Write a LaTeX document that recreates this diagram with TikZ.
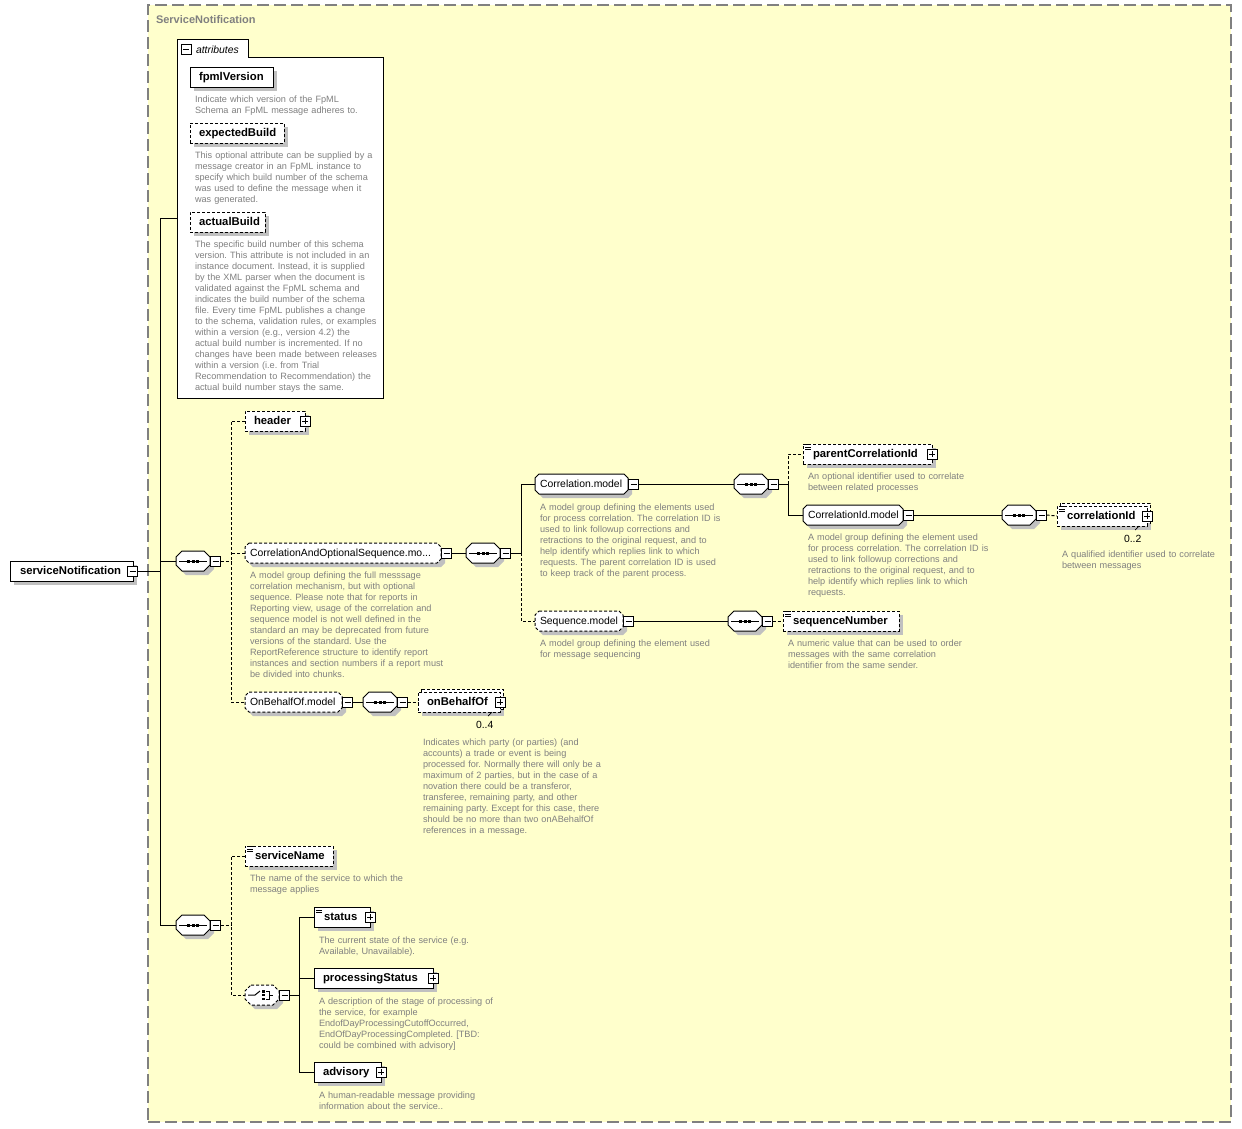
\documentclass[tikz,border=0pt]{standalone}
\usepackage{fontspec}
\setmainfont{Liberation Sans}
\pgfdeclarelayer{back}
\pgfdeclarelayer{bg}
\pgfsetlayers{back,bg,main}
\definecolor{ylw}{RGB}{255,255,204}
\definecolor{shd}{RGB}{192,192,192}
\definecolor{dsc}{RGB}{128,128,128}
\definecolor{frm}{RGB}{128,128,128}
\newcommand\namefont{\fontsize{11.3}{13}\selectfont\bfseries}
\newcommand\grpfont{\fontsize{10.4}{12}\selectfont}
\newcommand\descfont{\fontsize{9.15}{11}\selectfont\frenchspacing}
\newcommand\chamfer[3]{%
  \begin{scope}[transform canvas={shift={(4pt,-4pt)}}]
    \fill[shd] ([xshift=#2]#1.north west) -- ([xshift=-#2]#1.north east) -- ([yshift=-#2]#1.north east) -- ([yshift=#2]#1.south east) -- ([xshift=-#2]#1.south east) -- ([xshift=#2]#1.south west) -- ([yshift=#2]#1.south west) -- ([yshift=-#2]#1.north west) -- cycle;
  \end{scope}
  \filldraw[fill=white, draw=black, line width=1pt, #3] ([xshift=#2]#1.north west) -- ([xshift=-#2]#1.north east) -- ([yshift=-#2]#1.north east) -- ([yshift=#2]#1.south east) -- ([xshift=-#2]#1.south east) -- ([xshift=#2]#1.south west) -- ([yshift=#2]#1.south west) -- ([yshift=-#2]#1.north west) -- cycle;}
\newcommand\seqicon[1]{%
  \begin{scope}[shift={(#1.center)}]
    \draw[line width=1pt] (-14,0) -- (14,0);
    \fill (-6,-1.5) rectangle (-3,1.5);
    \fill (-1.5,-1.5) rectangle (1.5,1.5);
    \fill (3,-1.5) rectangle (6,1.5);
  \end{scope}}
\newcommand\choiceicon[1]{%
  \begin{scope}[shift={(#1.center)}]
    \draw[line width=1pt] (-14,0) -- (-7,0) -- (-2,-4);
    \fill (0,-5) rectangle (2.5,-2.5);
    \fill (0,-1.25) rectangle (2.5,1.25);
    \fill (0,2.5) rectangle (2.5,5);
    \draw[line width=1pt] (4,-4) -- (7,-4) -- (7,4) -- (4,4) (7,0) -- (11,0);
  \end{scope}}
\newcommand\simpleicon[1]{%
  \begin{scope}[shift={(#1.north west)}]
    \draw[line width=0.8pt] (2,0.5) -- (8,0.5) (2,3) -- (8,3) (2,5.5) -- (8,5.5);
  \end{scope}}
\begin{document}
\begin{tikzpicture}[x=1pt,y=-1pt, line width=1pt,
  every node/.style={inner sep=0pt, outer sep=0pt},
  shadowed/.style={preaction={fill=shd, transform canvas={shift={(4pt,-4pt)}}}},
  elembase/.style={draw=black, fill=white, anchor=north west, minimum height=20pt, text height=9pt, text depth=2pt, inner xsep=9pt, align=left, font=\namefont},
  elem/.style={elembase, shadowed},
  optl/.style={dash pattern=on 3pt off 2pt},
  grp/.style={anchor=north west, minimum height=20pt, text height=8.5pt, text depth=1.5pt, inner xsep=5pt, align=left, font=\grpfont},
  comp/.style={anchor=north west, minimum width=34pt, minimum height=20pt},
  desc/.style={anchor=base west, text width=250pt, align=left, font=\descfont, text=dsc},
  pmbox/.style={draw=black, fill=white, minimum size=10pt, anchor=center},
  plusbox/.style={pmbox, path picture={\draw[line width=1pt] ([xshift=2pt]path picture bounding box.west) -- ([xshift=-2pt]path picture bounding box.east) ([yshift=-2pt]path picture bounding box.north) -- ([yshift=2pt]path picture bounding box.south);}},
  minusbox/.style={pmbox, path picture={\draw[line width=1pt] ([xshift=2pt]path picture bounding box.west) -- ([xshift=-2pt]path picture bounding box.east);}},
  conn/.style={draw=black, line width=1pt},
  optconn/.style={conn, dash pattern=on 3pt off 2pt},
  occ/.style={anchor=base west, font=\grpfont},
]
\useasboundingbox (0,0) rectangle (1242,1128);
\begin{pgfonlayer}{back}
  \fill[white] (0,0) rectangle (1242,1128);
  \node[draw=frm, fill=ylw, line width=1.5pt, dash pattern=on 12pt off 5pt, anchor=north west, minimum width=1083pt, minimum height=1117pt] (frame) at (148,5) {};
\end{pgfonlayer}
\node[anchor=base west, font=\fontsize{11}{13}\selectfont\bfseries, text=frm] (title) at (156,23) {ServiceNotification};

% attributes
\node[anchor=north west, minimum width=206pt, minimum height=341pt] (attrs) at (177,57) {};
\node[minusbox] (attrm) at (186,49) {};
\node[anchor=base west, font=\grpfont\itshape] (attrlbl) at (196,53) {attributes};
\node[elem, text width=65pt] (fpml) at (190,67) {fpmlVersion};
\node[desc] (fpmld) at (195,102) {Indicate which version of the FpML\\Schema an FpML message adheres to.};
\node[elem, optl, text width=76pt] (expb) at (190,123) {expectedBuild};
\node[desc] (expbd) at (195,158) {This optional attribute can be supplied by a\\message creator in an FpML instance to\\specify which build number of the schema\\was used to define the message when it\\was generated.};
\node[elem, optl, text width=57pt] (actb) at (190,212) {actualBuild};
\node[desc] (actbd) at (195,247) {The specific build number of this schema\\version. This attribute is not included in an\\instance document. Instead, it is supplied\\by the XML parser when the document is\\validated against the FpML schema and\\indicates the build number of the schema\\file. Every time FpML publishes a change\\to the schema, validation rules, or examples\\within a version (e.g., version 4.2) the\\actual build number is incremented. If no\\changes have been made between releases\\within a version (i.e. from Trial\\Recommendation to Recommendation) the\\actual build number stays the same.};

% root
\node[elem, inner xsep=10pt, text width=103pt] (root) at (10,561) {serviceNotification};
\node[minusbox] (rootm) at (132.5,571) {};

% first sequence
\node[comp] (c1) at (176,551) {};
\node[minusbox] (c1m) at (215.5,561) {};
\node[elem, optl, text width=42pt] (header) at (245,411) {header};
\node[plusbox] (headerp) at (305,421) {};

\node[grp, text width=186pt] (cao) at (245,543) {CorrelationAndOptionalSequence.mo...};
\node[minusbox] (caom) at (446.5,553) {};
\node[desc] (caod) at (250,578) {A model group defining the full messsage\\correlation mechanism, but with optional\\sequence. Please note that for reports in\\Reporting view, usage of the correlation and\\sequence model is not well defined in the\\standard an may be deprecated from future\\versions of the standard. Use the\\ReportReference structure to identify report\\instances and section numbers if a report must\\be divided into chunks.};

\node[comp] (c2) at (466,543) {};
\node[minusbox] (c2m) at (505.5,553) {};

\node[grp, text width=83pt] (corr) at (535,474) {Correlation.model};
\node[minusbox] (corrm) at (633.5,484) {};
\node[desc] (corrd) at (540,510) {A model group defining the elements used\\for process correlation. The correlation ID is\\used to link followup corrections and\\retractions to the original request, and to\\help identify which replies link to which\\requests. The parent correlation ID is used\\to keep track of the parent process.};

\node[comp] (c3) at (734,474) {};
\node[minusbox] (c3m) at (773.5,484) {};

\node[elem, optl, inner xsep=10pt, text width=109pt] (pcid) at (803,444) {parentCorrelationId};
\node[plusbox] (pcidp) at (932,454) {};
\node[desc] (pcidd) at (808,479) {An optional identifier used to correlate\\between related processes};

\node[grp, text width=90pt] (cidm) at (803,505) {CorrelationId.model};
\node[minusbox] (cidmm) at (908.5,515) {};
\node[desc] (cidmd) at (808,540) {A model group defining the element used\\for process correlation. The correlation ID is\\used to link followup corrections and\\retractions to the original request, and to\\help identify which replies link to which\\requests.};

\node[comp] (c4) at (1002,505) {};
\node[minusbox] (c4m) at (1041.5,515) {};

\node[elembase, optl, inner xsep=10pt, text width=70pt] (cid) at (1057,506) {correlationId};
\node[plusbox] (cidp) at (1147,516) {};
\node[occ] (cidocc) at (1124,542) {0..2};
\node[desc, text width=160pt] (cidd) at (1062,557) {A qualified identifier used to correlate\\between messages};

\node[grp, text width=78pt] (seqm) at (535,611) {Sequence.model};
\node[minusbox] (seqmm) at (628.5,621) {};
\node[desc] (seqmd) at (540,646) {A model group defining the element used\\for message sequencing};

\node[comp] (c5) at (728,611) {};
\node[minusbox] (c5m) at (767.5,621) {};

\node[elem, optl, inner xsep=10pt, text width=96pt] (seqnum) at (783,611) {sequenceNumber};
\node[desc] (seqnumd) at (788,646) {A numeric value that can be used to order\\messages with the same correlation\\identifier from the same sender.};

\node[grp, text width=87pt] (obm) at (245,692) {OnBehalfOf.model};
\node[minusbox] (obmm) at (347.5,702) {};
\node[comp] (c6) at (363,692) {};
\node[minusbox] (c6m) at (402.5,702) {};
\node[elembase, optl, text width=64pt] (obo) at (418,692) {onBehalfOf};
\node[plusbox] (obop) at (500,702) {};
\node[occ] (oboocc) at (476,728) {0..4};
\node[desc] (obod) at (423,745) {Indicates which party (or parties) (and\\accounts) a trade or event is being\\processed for. Normally there will only be a\\maximum of 2 parties, but in the case of a\\novation there could be a transferor,\\transferee, remaining party, and other\\remaining party. Except for this case, there\\should be no more than two onABehalfOf\\references in a message.};

% second sequence
\node[comp] (c7) at (176,915) {};
\node[minusbox] (c7m) at (215.5,925) {};
\node[elem, optl, inner xsep=10pt, text width=68pt] (sname) at (245,846) {serviceName};
\node[desc] (snamed) at (250,881) {The name of the service to which the\\message applies};
\node[comp] (choice) at (245,985) {};
\node[minusbox] (choicem) at (284.5,995) {};
\node[elem, inner xsep=10pt, text width=36pt] (status) at (314,907) {status};
\node[plusbox] (statusp) at (370,917) {};
\node[desc] (statusd) at (319,943) {The current state of the service (e.g.\\Available, Unavailable).};
\node[elem, text width=101pt] (pstatus) at (314,968) {processingStatus};
\node[plusbox] (pstatusp) at (433,978) {};
\node[desc] (pstatusd) at (319,1004) {A description of the stage of processing of\\the service, for example\\EndofDayProcessingCutoffOccurred,\\EndOfDayProcessingCompleted. [TBD:\\could be combined with advisory]};
\node[elem, text width=49pt] (advisory) at (314,1062) {advisory};
\node[plusbox] (advisoryp) at (381,1072) {};
\node[desc] (advisoryd) at (319,1098) {A human-readable message providing\\information about the service..};

% shapes behind
\begin{pgfonlayer}{bg}
  \filldraw[fill=white, draw=black] (attrs.south west) -- (177,39) -- (248,39) -- (248,57) -- (attrs.north east) -- (attrs.south east) -- cycle;
  \chamfer{cao}{4pt}{optl}
  \chamfer{corr}{4pt}{}
  \chamfer{cidm}{4pt}{}
  \chamfer{seqm}{4pt}{optl}
  \chamfer{obm}{4pt}{optl}
  \chamfer{c1}{6pt}{}
  \chamfer{c2}{6pt}{}
  \chamfer{c3}{6pt}{}
  \chamfer{c4}{6pt}{}
  \chamfer{c5}{6pt}{}
  \chamfer{c6}{6pt}{}
  \chamfer{c7}{6pt}{}
  \chamfer{choice}{6pt}{optl}
  \fill[shd] ([xshift=4pt,yshift=-4pt]cid.north west) rectangle ([xshift=4pt,yshift=-4pt]cid.south east);
  \draw[fill=white, optl] ([xshift=3pt,yshift=3pt]cid.north west) rectangle ([xshift=3pt,yshift=3pt]cid.south east);
  \fill[shd] ([xshift=4pt,yshift=-4pt]obo.north west) rectangle ([xshift=4pt,yshift=-4pt]obo.south east);
  \draw[fill=white, optl] ([xshift=3pt,yshift=3pt]obo.north west) rectangle ([xshift=3pt,yshift=3pt]obo.south east);
\end{pgfonlayer}

% icons
\seqicon{c1}\seqicon{c2}\seqicon{c3}\seqicon{c4}\seqicon{c5}\seqicon{c6}\seqicon{c7}
\choiceicon{choice}
\simpleicon{pcid}\simpleicon{cid}\simpleicon{seqnum}\simpleicon{sname}\simpleicon{status}
\draw[line width=0.7pt] ([xshift=-12pt,yshift=-4pt]cid.south east) -- ([xshift=-8pt]cid.south east);
\draw[line width=0.7pt] ([xshift=-12pt,yshift=-4pt]obo.south east) -- ([xshift=-8pt]obo.south east);

% connectors
\coordinate (tr1) at (160,218);
\coordinate (tr2) at (160,925);
\draw[conn] (attrs.west |- tr1) -- (tr1) -- (tr2) -- (c7.west);
\draw[conn] (c1.west) -- (c1.west -| tr1);
\draw[conn] (rootm.east) -- (rootm.east -| tr1);

\coordinate (v1) at (231,421);
\draw[optconn] (c1m.east) -- (c1m.east -| v1);
\draw[optconn] (header.west) -- (header.west -| v1) -- (obm.west -| v1) -- (obm.west);
\draw[optconn] (cao.west) -- (cao.west -| v1);

\draw[conn] (caom.east) -- (c2.west);
\coordinate (v2) at (521,484);
\draw[conn] (c2m.east) -- (c2m.east -| v2);
\draw[conn] (corr.west) -- (corr.west -| v2) -- (c2m.east -| v2);
\draw[optconn] (c2m.east -| v2) -- (seqm.west -| v2) -- (seqm.west);
\draw[conn] (corrm.east) -- (c3.west);

\coordinate (v3) at (788,484);
\draw[conn] (c3m.east) -- (c3m.east -| v3) -- (cidm.west -| v3) -- (cidm.west);
\draw[optconn] (c3m.east -| v3) -- (pcid.west -| v3) -- (pcid.west);
\draw[conn] (cidmm.east) -- (c4.west);
\draw[optconn] (c4m.east) -- (cid.west);

\draw[conn] (seqmm.east) -- (c5.west);
\draw[optconn] (c5m.east) -- (seqnum.west);
\draw[conn] (obmm.east) -- (c6.west);
\draw[optconn] (c6m.east) -- (obo.west);

\coordinate (v4) at (231,925);
\draw[optconn] (c7m.east) -- (c7m.east -| v4);
\draw[optconn] (sname.west) -- (sname.west -| v4) -- (choice.west -| v4) -- (choice.west);
\coordinate (v5) at (299,995);
\draw[conn] (choicem.east) -- (choicem.east -| v5);
\draw[conn] (status.west) -- (status.west -| v5) -- (advisory.west -| v5) -- (advisory.west);
\draw[conn] (pstatus.west) -- (pstatus.west -| v5);
\end{tikzpicture}
\end{document}
